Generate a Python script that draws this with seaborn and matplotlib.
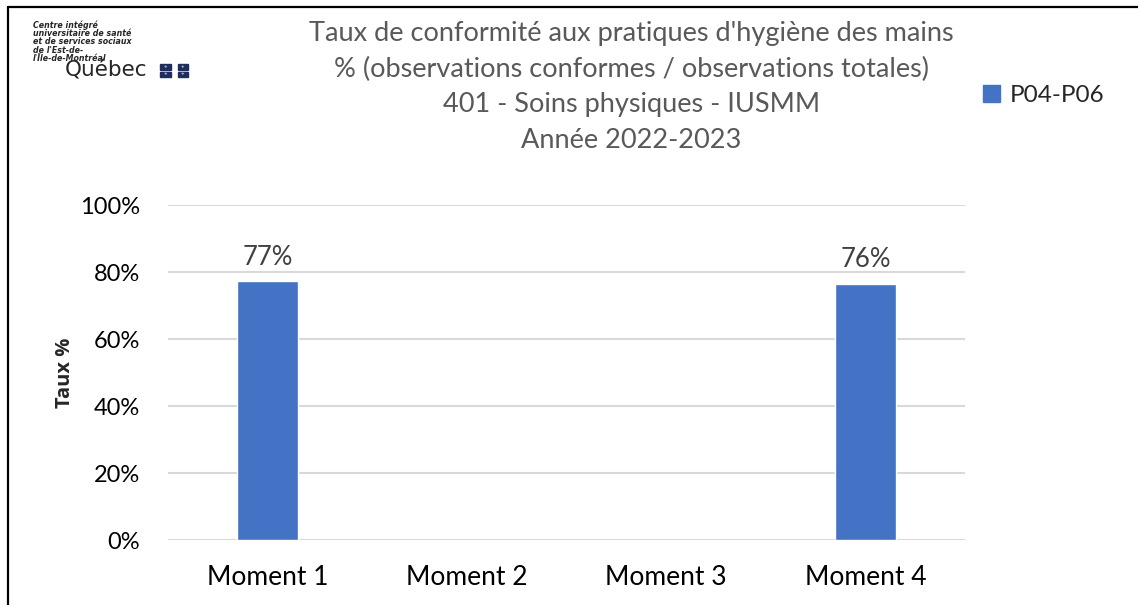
import matplotlib
matplotlib.use("Agg")
import matplotlib.pyplot as plt
import seaborn as sns
import numpy as np
import pandas as pd
from matplotlib.lines import Line2D
from matplotlib.patches import Rectangle

# data
moments = ["Moment 1", "Moment 2", "Moment 3", "Moment 4"]
taux = [77.2, np.nan, np.nan, 76.4]   # % (moment 2 et 3 sans donnees)
serie = "P04-P06"
yticks = [0, 20, 40, 60, 80, 100]

titre = ("Taux de conformité aux pratiques d'hygiène des mains\n"
         "% (observations conformes / observations totales)\n"
         "401 - Soins physiques - IUSMM\n"
         "Année 2022-2023")

sns.set_style("white")
plt.rcParams['font.family'] = ['Lato', 'DejaVu Sans']

bleu = "#4472C4"
d = pd.DataFrame({"moment": moments, "taux": taux})

fig = plt.figure(figsize=(11.38, 6.05), dpi=100)
ax = fig.add_axes([0.1476, 0.1074, 0.7004, 0.5537])

sns.barplot(data=d, x="moment", y="taux", color=bleu, width=0.31,
            saturation=1, ax=ax, label=serie, legend=False)

# labels on bars
for i, v in enumerate(taux):
    if not np.isnan(v):
        ax.text(i, v + 3.5, f"{v:.0f}%", ha="center", va="bottom",
                fontsize=18.5, color="#404040")

ax.set_ylim(0, 100)
ax.set_xlim(-0.5, 3.5)
ax.set_yticks(yticks)
ax.set_yticklabels([f"{t}%" for t in yticks])
ax.yaxis.grid(True, color="#d9d9d9", linewidth=1.5)
ax.set_axisbelow(True)
for s in ax.spines.values():
    s.set_visible(False)
ax.tick_params(axis="y", length=0, pad=20, labelsize=17, labelcolor="#000000")
ax.tick_params(axis="x", length=0, pad=18, labelsize=19, labelcolor="#000000")
ax.set_xlabel("")
ax.set_ylabel("Taux %", fontsize=14.5, fontweight="bold", labelpad=4,
              family=["Open Sans", "DejaVu Sans"])

# title
fig.text(0.555, 0.965, titre, ha="center", va="top", fontsize=19.5,
         color="#595959", linespacing=1.52)

# legend
ax.legend(handles=[Rectangle((0, 0), 1, 1, color=bleu)], labels=[serie],
          loc="upper left", bbox_to_anchor=(0.845, 0.895),
          bbox_transform=fig.transFigure, frameon=False, fontsize=17.5,
          handlelength=0.7, handleheight=0.7, handletextpad=0.4)

# logo
fig.text(0.029, 0.966, "Centre intégré\nuniversitaire de santé\net de services sociaux\nde l'Est-de-\nl'Île-de-Montréal",
         ha="left", va="top", fontsize=5.7, fontweight="bold", fontstyle="italic",
         linespacing=0.88, family=["DejaVu Sans"])
fig.text(0.057, 0.873, "Québec", ha="left", va="baseline", fontsize=15.5,
         family=["DejaVu Sans"])
for cx in (0.1455, 0.1605):
    for cy in (0.8895, 0.877):
        fig.add_artist(Rectangle((cx - 0.0045, cy - 0.0048), 0.009, 0.0096,
                                 transform=fig.transFigure, color="#1f2d5c"))
        fig.text(cx, cy, "⚜", ha="center", va="center", fontsize=3,
                 color="white", family=["DejaVu Sans"])

# frame lines (top and left)
fig.add_artist(Line2D([0.007, 1.0], [0.988, 0.988], color="black", lw=1.6,
                      transform=fig.transFigure))
fig.add_artist(Line2D([0.007, 0.007], [0.0, 0.988], color="black", lw=1.6,
                      transform=fig.transFigure))

plt.savefig("out.png", dpi=100)
